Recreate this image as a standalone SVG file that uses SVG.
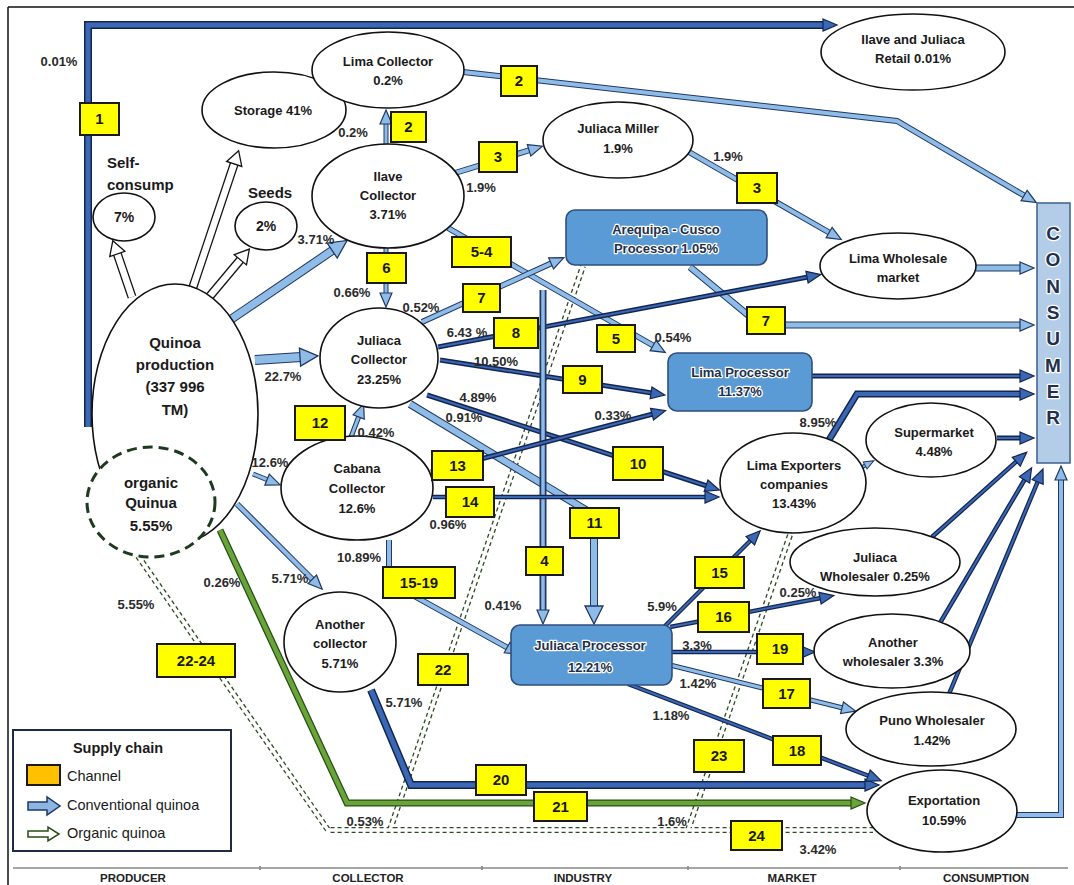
<svg xmlns="http://www.w3.org/2000/svg" width="1074" height="885" viewBox="0 0 1074 885">
<defs>
<style>
text{font-family:"Liberation Sans",Arial,sans-serif;font-weight:bold;fill:#1a1a1a}
.e{fill:#fff;stroke:#111;stroke-width:1.6}
.t{font-size:13px;text-anchor:middle}
.big{font-size:15px;text-anchor:middle}
.sl{font-size:15px}
.pc{font-size:13px;text-anchor:middle;fill:#2a2a2a}
.ch rect{fill:#ffff00;stroke:#1a1a1a;stroke-width:2}
.ch text{font-size:15px;text-anchor:middle}
.proc{fill:#5b9bd5;stroke:#2f4f7f;stroke-width:1.6}
.pt{font-size:13px;text-anchor:middle;fill:#22304d;stroke:#fff;stroke-width:2.5;paint-order:stroke;stroke-linejoin:round}
.lo,.li,.no,.ni,.go,.gi,.wo,.wi,.do,.di{fill:none;stroke-linejoin:miter}
.lo{stroke:#1f3864}
.li{stroke:#8fbce6}
.no{stroke:#14254d}
.ni{stroke:#3a68b5}
.go{stroke:#274e13}
.gi{stroke:#6aa339}
.wo{stroke:#111}
.wi{stroke:#fff}
.do{stroke:#2d4a22;stroke-width:6;stroke-dasharray:4 3}
.di{stroke:#fff;stroke-width:3.4}
.lg{font-size:14.5px;font-weight:normal}
.ft{font-size:11.5px;text-anchor:middle;fill:#222}
</style>
<marker id="ma" markerUnits="userSpaceOnUse" markerWidth="20" markerHeight="16" viewBox="-2 -8 20 16" refX="1" refY="0" orient="auto" overflow="visible"><path d="M0,-6 L14,0 L0,6 z" fill="#8fbce6" stroke="#1f3864" stroke-width="1.2"/></marker>
<marker id="mA" markerUnits="userSpaceOnUse" markerWidth="24" markerHeight="22" viewBox="-2 -11 24 22" refX="1" refY="0" orient="auto" overflow="visible"><path d="M0,-9 L18,0 L0,9 z" fill="#8fbce6" stroke="#1f3864" stroke-width="1.3"/></marker>
<marker id="mn" markerUnits="userSpaceOnUse" markerWidth="20" markerHeight="16" viewBox="-2 -8 20 16" refX="1" refY="0" orient="auto" overflow="visible"><path d="M0,-6 L14,0 L0,6 z" fill="#3a68b5" stroke="#14254d" stroke-width="1.2"/></marker>
<marker id="mg" markerUnits="userSpaceOnUse" markerWidth="20" markerHeight="16" viewBox="-2 -8 20 16" refX="1" refY="0" orient="auto" overflow="visible"><path d="M0,-6 L14,0 L0,6 z" fill="#6aa339" stroke="#274e13" stroke-width="1.2"/></marker>
<marker id="mw" markerUnits="userSpaceOnUse" markerWidth="20" markerHeight="20" viewBox="-2 -10 20 20" refX="1" refY="0" orient="auto" overflow="visible"><path d="M0,-8 L14,0 L0,8 z" fill="#fff" stroke="#111" stroke-width="1.3"/></marker>
<marker id="ms" markerUnits="userSpaceOnUse" markerWidth="14" markerHeight="10" viewBox="-2 -5 14 10" refX="1" refY="0" orient="auto" overflow="visible"><path d="M0,-4 L10,0 L0,4 z" fill="#8fbce6" stroke="#1f3864" stroke-width="1"/></marker>
</defs>

<rect width="1074" height="885" fill="#fff"/>
<path d="M8,7 H1074 M8,7 V885" stroke="#111" stroke-width="1.5" fill="none"/>

<g id="connectors">
<path class="do" d="M138,556 L328,830 L873,830 M390,830 L583,266 M688,830 L790,535"/>
<path class="di" d="M138,556 L328,830 L873,830 M390,830 L583,266 M688,830 L790,535"/>

<path class="wo" stroke-width="9" d="M132,297 L117,253"/><path class="wi" stroke-width="6.5" d="M132,297 L117,253" marker-end="url(#mw)"/>
<path class="wo" stroke-width="9" d="M192,290 L234.5,163"/><path class="wi" stroke-width="6.5" d="M192,290 L234.5,163" marker-end="url(#mw)"/>
<path class="wo" stroke-width="9" d="M210,296 L241,259"/><path class="wi" stroke-width="6.5" d="M210,296 L241,259" marker-end="url(#mw)"/>

<path class="no" stroke-width="8" d="M88,427 L88,25 L824,25"/><path class="ni" stroke-width="5" d="M88,427 L88,25 L824,25" marker-end="url(#mn)"/>

<path class="lo" stroke-width="6" d="M463,72 L897,121 L1025,196"/><path class="li" stroke-width="4" d="M463,72 L897,121 L1025,196" marker-end="url(#ma)"/>
<path class="lo" stroke-width="5" d="M386,146 L386,123"/><path class="li" stroke-width="3" d="M386,146 L386,123" marker-end="url(#ma)"/>
<path class="lo" stroke-width="6" d="M455,173 L530,150"/><path class="li" stroke-width="4" d="M455,173 L530,150" marker-end="url(#ma)"/>
<path class="lo" stroke-width="6" d="M689,152 L830,233"/><path class="li" stroke-width="4" d="M689,152 L830,233" marker-end="url(#ma)"/>
<path class="lo" stroke-width="6" d="M448,228 L654,346"/><path class="li" stroke-width="4" d="M448,228 L654,346" marker-end="url(#ma)"/>
<path class="lo" stroke-width="5" d="M386,248 L386,294"/><path class="li" stroke-width="3" d="M386,248 L386,294" marker-end="url(#ma)"/>
<path class="lo" stroke-width="6" d="M422,322 L552,263"/><path class="li" stroke-width="4" d="M422,322 L552,263" marker-end="url(#ma)"/>
<path class="lo" stroke-width="7" d="M690,267 L760,325 L1021,325"/><path class="li" stroke-width="5" d="M690,267 L760,325 L1021,325" marker-end="url(#ma)"/>

<path class="no" stroke-width="5" d="M438,347 L808,277"/><path class="ni" stroke-width="2" d="M438,347 L808,277" marker-end="url(#mn)"/>
<path class="no" stroke-width="5" d="M440,360 L652,393"/><path class="ni" stroke-width="2" d="M440,360 L652,393" marker-end="url(#mn)"/>
<path class="no" stroke-width="5" d="M427,395 L707,486"/><path class="ni" stroke-width="2" d="M427,395 L707,486" marker-end="url(#mn)"/>

<path class="lo" stroke-width="8" d="M410,404 L594,515 L594,607"/><path class="li" stroke-width="6" d="M410,404 L594,515 L594,607" marker-end="url(#mA)"/>
<path class="lo" stroke-width="7" d="M543,290 L543,611"/><path class="li" stroke-width="3.5" d="M543,290 L543,611" marker-end="url(#ma)"/>
<path class="lo" stroke-width="5" d="M351,437 L359,416"/><path class="li" stroke-width="3" d="M351,437 L359,416" marker-end="url(#ma)"/>

<path class="no" stroke-width="5" d="M431,472 L653,414"/><path class="ni" stroke-width="2" d="M431,472 L653,414" marker-end="url(#mn)"/>
<path class="no" stroke-width="4.5" d="M433,497 L706,497"/><path class="ni" stroke-width="2" d="M433,497 L706,497" marker-end="url(#mn)"/>

<path class="lo" stroke-width="6" d="M389,540 L389,582 L508,648"/><path class="li" stroke-width="4" d="M389,540 L389,582 L508,648" marker-end="url(#ma)"/>
<path class="lo" stroke-width="9" d="M230,320 L333,250"/><path class="li" stroke-width="7" d="M230,320 L333,250" marker-end="url(#mA)"/>
<path class="lo" stroke-width="10" d="M255,360 L301,357"/><path class="li" stroke-width="8" d="M255,360 L301,357" marker-end="url(#mA)"/>
<path class="lo" stroke-width="5" d="M253,474 L268,480"/><path class="li" stroke-width="3" d="M253,474 L268,480" marker-end="url(#ma)"/>
<path class="lo" stroke-width="6" d="M237,504 L313,580"/><path class="li" stroke-width="4" d="M237,504 L313,580" marker-end="url(#ma)"/>

<path class="go" stroke-width="7" d="M220,530 L347,803 L852,803"/><path class="gi" stroke-width="4.5" d="M220,530 L347,803 L852,803" marker-end="url(#mg)"/>
<path class="no" stroke-width="8" d="M371,690 L411,785 L866,785"/><path class="ni" stroke-width="5" d="M371,690 L411,785 L866,785" marker-end="url(#mn)"/>

<path class="lo" stroke-width="7" d="M976,268 L1021,268"/><path class="li" stroke-width="5" d="M976,268 L1021,268" marker-end="url(#ma)"/>
<path class="no" stroke-width="5" d="M812,376 L1021,376"/><path class="ni" stroke-width="2" d="M812,376 L1021,376" marker-end="url(#mn)"/>
<path class="no" stroke-width="7" d="M829,440 L857,394 L1021,394"/><path class="ni" stroke-width="4" d="M829,440 L857,394 L1021,394" marker-end="url(#mn)"/>
<path class="no" stroke-width="5" d="M997,438 L1021,438"/><path class="ni" stroke-width="2" d="M997,438 L1021,438" marker-end="url(#mn)"/>
<path class="lo" stroke-width="4" d="M857,470 L866,465"/><path class="li" stroke-width="2" d="M857,470 L866,465" marker-end="url(#ms)"/>
<path class="no" stroke-width="4.5" d="M932,537 L1017,461"/><path class="ni" stroke-width="2" d="M932,537 L1017,461" marker-end="url(#mn)"/>
<path class="no" stroke-width="4.5" d="M937,628 L1025,479"/><path class="ni" stroke-width="2" d="M937,628 L1025,479" marker-end="url(#mn)"/>
<path class="no" stroke-width="4.5" d="M949,694 L1038,481"/><path class="ni" stroke-width="2" d="M949,694 L1038,481" marker-end="url(#mn)"/>
<path class="lo" stroke-width="6" d="M1017,815 L1061,815 L1061,479"/><path class="li" stroke-width="4" d="M1017,815 L1061,815 L1061,479" marker-end="url(#ma)"/>

<path class="no" stroke-width="4.5" d="M663,628 L751,540"/><path class="ni" stroke-width="2" d="M663,628 L751,540" marker-end="url(#mn)"/>
<path class="no" stroke-width="4.5" d="M670,627 L821,598"/><path class="ni" stroke-width="2" d="M670,627 L821,598" marker-end="url(#mn)"/>
<path class="no" stroke-width="4.5" d="M672,652 L802,652"/><path class="ni" stroke-width="2" d="M672,652 L802,652" marker-end="url(#mn)"/>
<path class="lo" stroke-width="5" d="M670,665 L843,708"/><path class="li" stroke-width="3" d="M670,665 L843,708" marker-end="url(#ma)"/>
<path class="no" stroke-width="4.5" d="M628,684 L869,776"/><path class="ni" stroke-width="2" d="M628,684 L869,776" marker-end="url(#mn)"/>
</g>

<g id="quinoa-production"><ellipse class="e" cx="175" cy="414" rx="83" ry="130"/>
<text class="big" x="175" y="348">Quinoa</text><text class="big" x="175" y="370">production</text><text class="big" x="175" y="392">(337 996</text><text class="big" x="175" y="415">TM)</text></g>
<g id="organic-quinua"><ellipse cx="151" cy="502" rx="64" ry="55" fill="#fff" stroke="#1e3a1e" stroke-width="3" stroke-dasharray="10 6"/>
<text class="big" x="151" y="488">organic</text><text class="big" x="151" y="508">Quinua</text><text class="big" x="151" y="531">5.55%</text></g>

<g id="self-consump"><ellipse class="e" cx="124" cy="217" rx="31" ry="24"/>
<text class="sl" x="107" y="168">Self-</text><text class="sl" x="107" y="190">consump</text><text class="t" x="124" y="222" style="font-size:14px">7%</text></g>
<g id="seeds"><ellipse class="e" cx="266" cy="226" rx="31" ry="24"/>
<text class="sl" x="248" y="198">Seeds</text><text class="t" x="266" y="231" style="font-size:14px">2%</text></g>
<g id="storage"><ellipse class="e" cx="274" cy="110" rx="72" ry="38"/><text class="t" x="273" y="115">Storage 41%</text></g>
<g id="lima-collector"><ellipse class="e" cx="388" cy="70" rx="76" ry="38"/><text class="t" x="388" y="66">Lima Collector</text><text class="t" x="388" y="85">0.2%</text></g>
<g id="ilave-collector"><ellipse class="e" cx="388" cy="196" rx="76" ry="52"/><text class="t" x="388" y="181">Ilave</text><text class="t" x="388" y="200">Collector</text><text class="t" x="388" y="219">3.71%</text></g>
<g id="juliaca-miller"><ellipse class="e" cx="618" cy="140" rx="75" ry="38"/><text class="t" x="618" y="133">Juliaca Miller</text><text class="t" x="618" y="153">1.9%</text></g>
<g id="retail"><ellipse class="e" cx="913" cy="52" rx="92" ry="38"/><text class="t" x="913" y="44">Ilave and Juliaca</text><text class="t" x="913" y="63">Retail 0.01%</text></g>
<g id="lima-wholesale"><ellipse class="e" cx="898" cy="266" rx="78" ry="33"/><text class="t" x="898" y="263">Lima Wholesale</text><text class="t" x="898" y="282">market</text></g>
<g id="juliaca-collector"><ellipse class="e" cx="379" cy="358" rx="59" ry="50"/><text class="t" x="379" y="345">Juliaca</text><text class="t" x="379" y="364">Collector</text><text class="t" x="379" y="384">23.25%</text></g>
<g id="cabana-collector"><ellipse class="e" cx="357" cy="488" rx="76" ry="52"/><text class="t" x="357" y="473">Cabana</text><text class="t" x="357" y="493">Collector</text><text class="t" x="357" y="513">12.6%</text></g>
<g id="another-collector"><ellipse class="e" cx="340" cy="642" rx="56" ry="50"/><text class="t" x="340" y="629">Another</text><text class="t" x="340" y="648">collector</text><text class="t" x="340" y="668">5.71%</text></g>
<g id="arequipa-processor"><rect class="proc" x="566" y="210" width="201" height="55" rx="9"/><text class="pt" x="666" y="234">Arequipa - Cusco</text><text class="pt" x="666" y="253">Processor 1.05%</text></g>
<g id="lima-processor"><rect class="proc" x="668" y="353" width="144" height="58" rx="9"/><text class="pt" x="740" y="377">Lima Processor</text><text class="pt" x="740" y="396">11.37%</text></g>
<g id="juliaca-processor"><rect class="proc" x="511" y="625" width="161" height="60" rx="9"/><text class="pt" x="590" y="650">Juliaca Processor</text><text class="pt" x="590" y="672">12.21%</text></g>
<g id="lima-exporters"><ellipse class="e" cx="793" cy="483" rx="73" ry="50"/><text class="t" x="794" y="470">Lima Exporters</text><text class="t" x="794" y="489">companies</text><text class="t" x="794" y="508">13.43%</text></g>
<g id="supermarket"><ellipse class="e" cx="931" cy="440" rx="65" ry="37"/><text class="t" x="934" y="437">Supermarket</text><text class="t" x="934" y="456">4.48%</text></g>
<g id="juliaca-wholesaler"><ellipse class="e" cx="875" cy="562" rx="85" ry="34"/><text class="t" x="875" y="562">Juliaca</text><text class="t" x="875" y="581">Wholesaler 0.25%</text></g>
<g id="another-wholesaler"><ellipse class="e" cx="892" cy="651" rx="78" ry="37"/><text class="t" x="893" y="647">Another</text><text class="t" x="893" y="666">wholesaler 3.3%</text></g>
<g id="puno-wholesaler"><ellipse class="e" cx="931" cy="729" rx="85" ry="37"/><text class="t" x="932" y="725">Puno Wholesaler</text><text class="t" x="932" y="745">1.42%</text></g>
<g id="exportation"><ellipse class="e" cx="942" cy="811" rx="75" ry="41"/><text class="t" x="944" y="805">Exportation</text><text class="t" x="944" y="825">10.59%</text></g>
<g id="consumer"><rect x="1037" y="203" width="33" height="260" fill="#b3cde8" stroke="#3d5f8f" stroke-width="1.5"/>
<text class="pt" style="font-size:19px" x="1053" y="240">C</text><text class="pt" style="font-size:19px" x="1053" y="266">O</text><text class="pt" style="font-size:19px" x="1053" y="293">N</text><text class="pt" style="font-size:19px" x="1053" y="319">S</text><text class="pt" style="font-size:19px" x="1053" y="345">U</text><text class="pt" style="font-size:19px" x="1053" y="372">M</text><text class="pt" style="font-size:19px" x="1053" y="398">E</text><text class="pt" style="font-size:19px" x="1053" y="424">R</text>
</g>

<g id="channels" class="ch">
<rect x="80" y="103" width="39" height="32"/><text x="99.5" y="124">1</text>
<rect x="501" y="66" width="36" height="30"/><text x="519" y="86">2</text>
<rect x="391" y="112" width="35" height="30"/><text x="408.5" y="132">2</text>
<rect x="479" y="142" width="38" height="30"/><text x="498" y="162">3</text>
<rect x="737" y="173" width="40" height="30"/><text x="757" y="193">3</text>
<rect x="452" y="237" width="59" height="30"/><text x="481.5" y="257">5-4</text>
<rect x="367" y="253" width="39" height="30"/><text x="386.5" y="273">6</text>
<rect x="463" y="284" width="37" height="28"/><text x="481.5" y="303">7</text>
<rect x="494" y="318" width="44" height="30"/><text x="516" y="338">8</text>
<rect x="597" y="325" width="38" height="27"/><text x="616" y="344">5</text>
<rect x="747" y="307" width="38" height="27"/><text x="766" y="326">7</text>
<rect x="563" y="366" width="39" height="27"/><text x="582.5" y="385">9</text>
<rect x="613" y="447" width="50" height="33"/><text x="638" y="469">10</text>
<rect x="570" y="508" width="49" height="30"/><text x="594.5" y="528">11</text>
<rect x="295" y="406" width="50" height="34"/><text x="320" y="428">12</text>
<rect x="432" y="451" width="51" height="29"/><text x="457.5" y="471">13</text>
<rect x="446" y="487" width="48" height="30"/><text x="470" y="507">14</text>
<rect x="383" y="567" width="72" height="31"/><text x="419" y="588">15-19</text>
<rect x="526" y="547" width="37" height="28"/><text x="544.5" y="566">4</text>
<rect x="695" y="557" width="49" height="31"/><text x="719.5" y="578">15</text>
<rect x="698" y="602" width="51" height="30"/><text x="723.5" y="622">16</text>
<rect x="757" y="634" width="46" height="30"/><text x="780" y="654">19</text>
<rect x="763" y="679" width="47" height="29"/><text x="786.5" y="699">17</text>
<rect x="773" y="736" width="48" height="29"/><text x="797" y="756">18</text>
<rect x="694" y="740" width="50" height="32"/><text x="719" y="761">23</text>
<rect x="534" y="792" width="53" height="29"/><text x="560.5" y="812">21</text>
<rect x="731" y="821" width="51" height="29"/><text x="756.5" y="841">24</text>
<rect x="476" y="765" width="50" height="30"/><text x="501" y="785">20</text>
<rect x="418" y="654" width="50" height="31"/><text x="443" y="675">22</text>
<rect x="157" y="644" width="78" height="33"/><text x="196" y="666">22-24</text>
</g>

<g id="labels">
<text class="pc" x="59" y="66">0.01%</text>
<text class="pc" x="353" y="137">0.2%</text>
<text class="pc" x="481" y="192">1.9%</text>
<text class="pc" x="728" y="161">1.9%</text>
<text class="pc" x="316" y="244">3.71%</text>
<text class="pc" x="352" y="297">0.66%</text>
<text class="pc" x="421" y="312">0.52%</text>
<text class="pc" x="467" y="337">6.43 %</text>
<text class="pc" x="496" y="366">10.50%</text>
<text class="pc" x="478" y="402">4.89%</text>
<text class="pc" x="464" y="422">0.91%</text>
<text class="pc" x="376" y="437">0.42%</text>
<text class="pc" x="283" y="381">22.7%</text>
<text class="pc" x="270" y="467">12.6%</text>
<text class="pc" x="448" y="529">0.96%</text>
<text class="pc" x="359" y="562">10.89%</text>
<text class="pc" x="290" y="583">5.71%</text>
<text class="pc" x="222" y="587">0.26%</text>
<text class="pc" x="136" y="609">5.55%</text>
<text class="pc" x="404" y="707">5.71%</text>
<text class="pc" x="503" y="610">0.41%</text>
<text class="pc" x="365" y="826">0.53%</text>
<text class="pc" x="673" y="342">0.54%</text>
<text class="pc" x="613" y="420">0.33%</text>
<text class="pc" x="818" y="427">8.95%</text>
<text class="pc" x="662" y="611">5.9%</text>
<text class="pc" x="798" y="597">0.25%</text>
<text class="pc" x="697" y="650">3.3%</text>
<text class="pc" x="698" y="688">1.42%</text>
<text class="pc" x="671" y="720">1.18%</text>
<text class="pc" x="672" y="826">1.6%</text>
<text class="pc" x="818" y="854">3.42%</text>
</g>

<g id="legend">
<rect x="13" y="730" width="218" height="121" fill="#fff" stroke="#1f2a44" stroke-width="2"/>
<text x="118" y="753" style="font-size:14.5px;text-anchor:middle">Supply chain</text>
<rect x="27" y="765" width="33" height="20" fill="#ffc000" stroke="#1a1a1a" stroke-width="2"/>
<text class="lg" x="67" y="781">Channel</text>
<path d="M28,802 L47,802 L47,797 L60,806 L47,815 L47,810 L28,810 z" fill="#8db4e2" stroke="#1f3864" stroke-width="1.5"/>
<text class="lg" x="67" y="810">Conventional quinoa</text>
<path d="M28,831 L48,831 L48,827 L59,834 L48,841 L48,837 L28,837 z" fill="#fff" stroke="#274e13" stroke-width="1.5"/>
<text class="lg" x="67" y="838">Organic quinoa</text>
</g>

<g id="footer">
<path d="M13,868 H1068 M260,866 V870 M482,866 V870 M688,866 V870 M900,866 V870" stroke="#888" stroke-width="1.6" fill="none"/>
<text class="ft" x="133" y="882">PRODUCER</text>
<text class="ft" x="368" y="882">COLLECTOR</text>
<text class="ft" x="583" y="882">INDUSTRY</text>
<text class="ft" x="792" y="882">MARKET</text>
<text class="ft" x="986" y="882">CONSUMPTION</text>
</g>
</svg>
